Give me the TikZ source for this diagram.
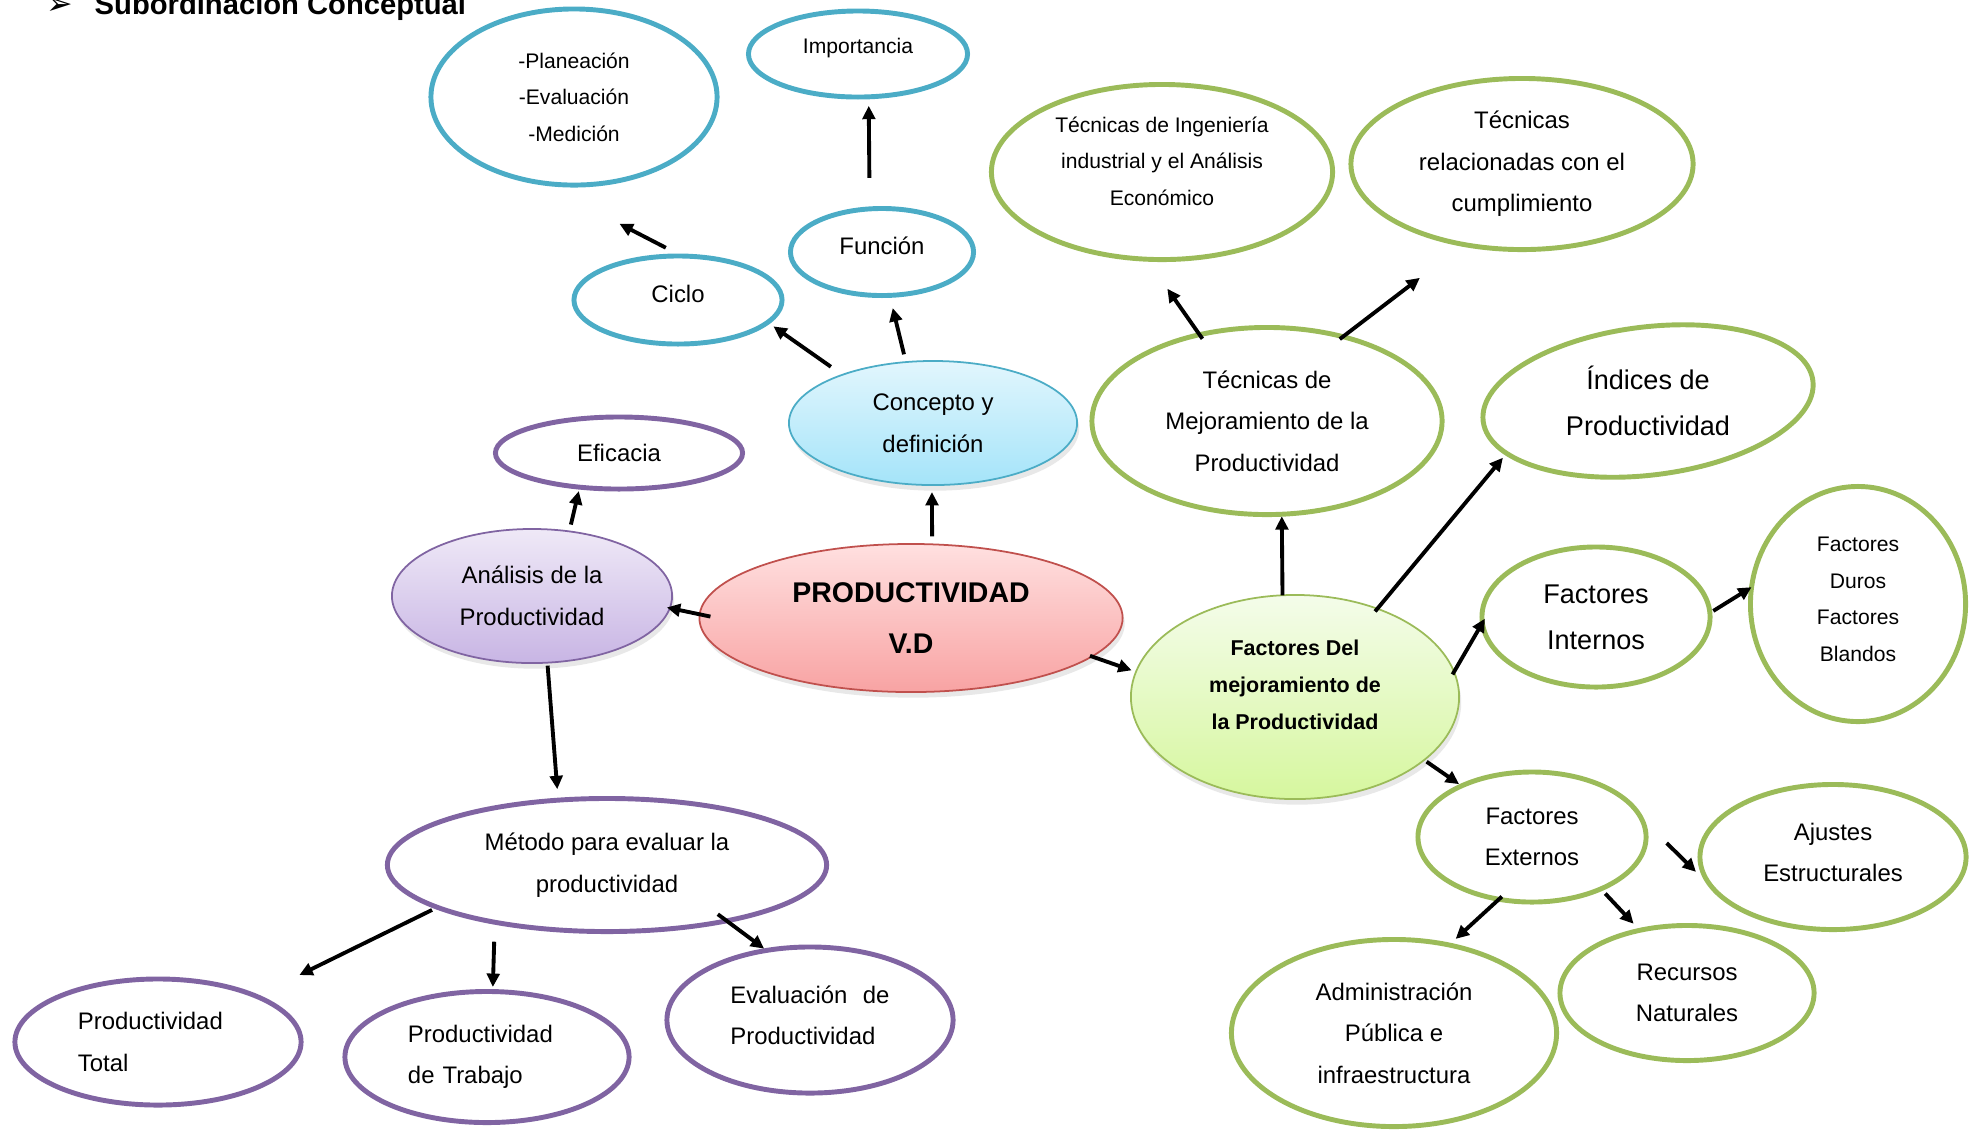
\documentclass[tikz,border=0pt]{standalone}
\usepackage{fontspec}
\setmainfont{Liberation Sans}
\newfontfamily\dejavu{DejaVu Sans}
\usetikzlibrary{arrows.meta,shapes.geometric,shadows}
\definecolor{conaqua}{HTML}{4BACC6}
\definecolor{converde}{HTML}{9BBB59}
\definecolor{conmorado}{HTML}{8064A2}
\definecolor{conrojo}{HTML}{C0504D}
\definecolor{celtop}{HTML}{E2F6FD}
\definecolor{celbot}{HTML}{A4E4F9}
\definecolor{lilatop}{HTML}{EFE9F7}
\definecolor{lilabot}{HTML}{C8B5E4}
\definecolor{rosatop}{HTML}{FFE0E0}
\definecolor{rosabot}{HTML}{F8A3A3}
\definecolor{limatop}{HTML}{F4FCEA}
\definecolor{limabot}{HTML}{D6F79E}
\newcommand\txs{\fontsize{6}{10.4}\selectfont}
\newcommand\txm{\fontsize{6.8}{11.8}\selectfont}
\newcommand\txl{\fontsize{7.7}{13}\selectfont}
\tikzset{
  idea/.style={ellipse,line width=1.4pt,inner sep=0pt,outer sep=0pt,
               align=center,font=\txm},
  aqua/.style={idea,draw=conaqua},
  verde/.style={idea,draw=converde},
  morado/.style={idea,draw=conmorado},
  ring/.style={draw=converde,line width=1.4pt},
  hub/.style={ellipse,line width=0.5pt,inner sep=0pt,outer sep=0pt,
              align=center,font=\txm,
              drop shadow={opacity=0.18,shadow xshift=0.6pt,shadow yshift=-1.6pt}},
  wh/.style 2 args={minimum width=#1cm,minimum height=#2cm},
  flow/.style={-{Triangle[length=3.8pt,width=3.6pt]},line width=1.1pt,draw=black},
}
\begin{document}
\begin{tikzpicture}[x=0.01cm,y=-0.01cm]
  \useasboundingbox (0,0) rectangle (1970,1129);

  \node[anchor=base west,inner sep=0pt,font=\dejavu\fontsize{9}{10}\selectfont] (vineta) at (46,14) {➢};
  \node[anchor=base west,inner sep=0pt,font=\bfseries\fontsize{8.3}{9.8}\selectfont] (titulo) at (94,14)
    {Subordinación Conceptual};

  % concepto y definicion (azul)
  \node[aqua,wh={2.86}{1.76},font=\txs] (plan) at (574,97) {-Planeación\\-Evaluación\\-Medición};
  \node[aqua,wh={2.19}{0.86},font=\txs,text depth=4.5pt] (imp) at (858,54) {Importancia};
  \node[aqua,wh={1.83}{0.87},text depth=3.4pt] (func) at (882,252) {Función};
  \node[aqua,wh={2.08}{0.88},text depth=3.4pt] (ciclo) at (678,300) {Ciclo};
  \node[hub,draw=conaqua,top color=celtop,bottom color=celbot,wh={2.88}{1.24}]
    (concepto) at (933,423) {Concepto y\\definición};

  % tecnicas e indices (verde)
  \node[verde,wh={3.41}{1.75},font=\txs,text depth=6.2pt] (tecing) at (1162,172)
    {Técnicas de Ingeniería\\industrial y el Análisis\\Económico};
  \node[verde,wh={3.42}{1.71}] (tecrel) at (1522,164) {Técnicas\\relacionadas con el\\cumplimiento};
  \node[verde,wh={3.50}{1.87}] (tecmej) at (1267,421) {Técnicas de\\Mejoramiento de la\\Productividad};
  \node[idea,wh={3.32}{1.48},font=\txl] (indices) at (1648,401) {Índices de\\Productividad};
  % the Indices ring leans a little, its text does not
  \draw[ring,rotate around={7:(indices.center)}] (indices.center) ellipse (1.66cm and 0.74cm);

  % analisis (morado)
  \node[morado,wh={2.47}{0.72}] (eficacia) at (619,453) {Eficacia};
  \node[hub,draw=conmorado,top color=lilatop,bottom color=lilabot,wh={2.80}{1.34}]
    (analisis) at (532,596) {Análisis de la\\Productividad};
  \node[hub,draw=conrojo,top color=rosatop,bottom color=rosabot,wh={4.23}{1.48},
        font=\bfseries\fontsize{8.1}{14.3}\selectfont] (prod) at (911,618) {PRODUCTIVIDAD\\V.D};
  \node[hub,draw=converde,top color=limatop,bottom color=limabot,wh={3.28}{2.04},
        font=\bfseries\fontsize{6.1}{10.5}\selectfont,text depth=6.8pt]
    (facdel) at (1295,697) {Factores Del\\mejoramiento de\\la Productividad};

  % factores
  \node[verde,wh={2.28}{1.40},font=\txl] (facint) at (1596,617) {Factores\\Internos};
  \node[verde,wh={2.15}{2.35},font=\txs,text depth=2.8pt] (duros) at (1858,604)
    {Factores\\Duros\\Factores\\Blandos};
  \node[verde,wh={2.28}{1.30}] (facext) at (1532,837) {Factores\\Externos};
  \node[verde,wh={2.66}{1.45},text depth=2.8pt] (ajustes) at (1833,857) {Ajustes\\Estructurales};
  \node[verde,wh={2.54}{1.35}] (recursos) at (1687,993) {Recursos\\Naturales};
  \node[verde,wh={3.25}{1.87}] (admin) at (1394,1033) {Administración\\Pública e\\infraestructura};

  % metodos
  \node[morado,wh={4.39}{1.33}] (metodo) at (607,865) {Método para evaluar la\\productividad};
  \node[morado,wh={2.86}{1.26},align=left,text width=1.6cm] (ptotal) at (158,1042) {Productividad\\Total};
  \node[morado,wh={2.84}{1.31},align=left,text width=1.58cm] (ptrab) at (487,1057) {Productividad\\de Trabajo};
  \node[morado,wh={2.86}{1.46},align=left,text depth=2.8pt] (eval) at (810,1020)
    {Evaluación\hspace{4.4pt}de\\Productividad};

  % connectors (they stop short of the ellipses, as in the sketch)
  \draw[flow,shorten <=0.31cm,shorten >=0.09cm] (func.106) -- (imp.-76);
  \draw[flow,shorten <=0.18cm,shorten >=0.90cm] (ciclo.85) -- (plan.-112);
  \draw[flow,shorten <=0.14cm,shorten >=0.07cm] (concepto.152) -- (ciclo.-14);
  \draw[flow,shorten <=0.08cm,shorten >=0.13cm] (concepto.114) -- (func.-80);
  \draw[flow,shorten <=0.08cm,shorten >=0.07cm] (prod.74) -- (concepto.-91);
  \draw[flow,shorten <=0.07cm,shorten >=0.04cm] (analisis.60) -- (eficacia.-139);
  \draw[flow,shorten <=-0.11cm,shorten >=-0.03cm] (prod.179) -- (analisis.-5.6);
  \draw[flow,shorten <=0.03cm,shorten >=0.11cm] (analisis.-77.6) -- (metodo.127.5);
  \draw[flow,shorten <=0.06cm,shorten >=0.48cm] (metodo.-166.4) -- (ptotal.25.7);
  \draw[flow,shorten <=0.195cm,shorten >=0.046cm] (metodo.-153) -- (ptrab.85.8);
  \draw[flow,shorten <=-0.11cm,shorten >=0.03cm] (metodo.-25.4) -- (eval.122.6);
  \draw[flow,shorten <=-0.02cm,shorten >=0.046cm] (prod.-12.85) -- (facdel.171.2);
  \draw[flow,shorten >=0.02cm] (facdel.97.8) -- (tecmej.-81.6);
  \draw[flow,shorten <=-0.035cm,shorten >=0.17cm] (facdel.47.2) -- (indices.198.7);
  \draw[flow,shorten <=-0.05cm,shorten >=0.36cm] (tecmej.128) -- (tecing.-100.3);
  \draw[flow,shorten <=-0.04cm,shorten >=0.55cm] (tecmej.48.9) -- (tecrel.-126.5);
  \draw[flow,shorten <=-0.03cm,shorten >=-0.05cm] (facdel.9.9) -- (facint.183.6);
  \draw[flow,shorten <=0.04cm] (facint.2.9) -- (duros.171.6);
  \draw[flow,shorten <=0.03cm,shorten >=0.03cm] (facdel.-26.1) -- (facext.144.2);
  \draw[flow,shorten <=0.36cm,shorten >=0.27cm] (facext.10.6) -- (ajustes.-164.6);
  \draw[flow,shorten <=0.064cm,shorten >=0.09cm] (facext.-37.5) -- (recursos.127.1);
  \draw[flow,shorten <=-0.04cm,shorten >=0.09cm] (facext.-118.8) -- (admin.58.1);
\end{tikzpicture}
\end{document}
